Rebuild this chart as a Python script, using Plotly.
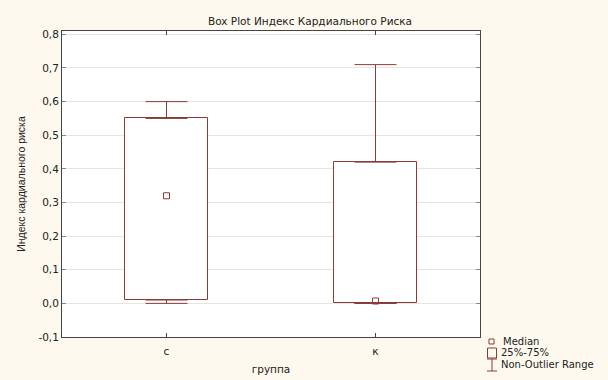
import plotly.graph_objects as go

# Group labels and summary statistics of the cardiac risk index
groups = ["c", "к"]
lower_whisker = [0.0, 0.0]
q1 = [0.01, 0.0]
median = [0.32, 0.007]
q3 = [0.55, 0.42]
upper_whisker = [0.60, 0.71]

y_ticks = [-0.1, 0.0, 0.1, 0.2, 0.3, 0.4, 0.5, 0.6, 0.7, 0.8]
y_tick_labels = ["-0,1", "0,0", "0,1", "0,2", "0,3", "0,4", "0,5", "0,6", "0,7", "0,8"]

MAROON = "#8b3a3a"
BG = "#fdf9ee"
FONT = "Liberation Sans, Arial, sans-serif"
WIDE = "DejaVu Sans, Verdana, sans-serif"
TEXT = "#222222"

W, H = 608, 380
L, R, T, B = 62, 128, 31, 43
PW, PH = W - L - R, H - T - B

fig = go.Figure()

# 25%-75% boxes
fig.add_trace(go.Bar(
    x=groups, base=q1, y=[b - a for a, b in zip(q1, q3)],
    width=0.4, marker=dict(color="white", line=dict(color=MAROON, width=1)),
    showlegend=False, hoverinfo="skip",
))

# upper whiskers from the top of each box
fig.add_trace(go.Scatter(
    x=groups, y=q3, mode="markers", marker=dict(size=1, opacity=0),
    error_y=dict(type="data", symmetric=False,
                 array=[u - t for u, t in zip(upper_whisker, q3)],
                 arrayminus=[0, 0], color=MAROON, thickness=1, width=21),
    showlegend=False, hoverinfo="skip",
))

# lower whiskers from the bottom of each box
fig.add_trace(go.Scatter(
    x=groups, y=q1, mode="markers", marker=dict(size=1, opacity=0),
    error_y=dict(type="data", symmetric=False,
                 array=[0, 0],
                 arrayminus=[b - lw for b, lw in zip(q1, lower_whisker)],
                 color=MAROON, thickness=1, width=21),
    showlegend=False, hoverinfo="skip",
))

# medians
fig.add_trace(go.Scatter(
    x=groups, y=median, mode="markers",
    marker=dict(symbol="square-open", size=6, color=MAROON, line=dict(width=1, color=MAROON)),
    showlegend=False, hoverinfo="skip",
))


def px_x(px):
    return (px - L) / PW


def px_y(py):
    return (H - B - py) / PH


shapes = [
    # median symbol
    dict(type="rect", xref="paper", yref="paper",
         x0=px_x(489), x1=px_x(494), y0=px_y(344), y1=px_y(339),
         line=dict(color=MAROON, width=1), fillcolor="rgba(0,0,0,0)"),
    # box symbol
    dict(type="rect", xref="paper", yref="paper",
         x0=px_x(487.5), x1=px_x(496.5), y0=px_y(358), y1=px_y(348),
         line=dict(color=MAROON, width=1), fillcolor="rgba(0,0,0,0)"),
    # whisker symbol
    dict(type="line", xref="paper", yref="paper",
         x0=px_x(492), x1=px_x(492), y0=px_y(371), y1=px_y(359),
         line=dict(color=MAROON, width=1)),
    dict(type="line", xref="paper", yref="paper",
         x0=px_x(487), x1=px_x(497), y0=px_y(359), y1=px_y(359),
         line=dict(color=MAROON, width=1)),
    dict(type="line", xref="paper", yref="paper",
         x0=px_x(487), x1=px_x(497), y0=px_y(371), y1=px_y(371),
         line=dict(color=MAROON, width=1)),
]

legend_items = [("Median", 501, 341), ("25%-75%", 498.5, 352.5), ("Non-Outlier Range", 498.5, 364)]
annotations = [
    dict(text=t, xref="paper", yref="paper", x=px_x(x), y=px_y(y),
         xanchor="left", yanchor="middle", showarrow=False,
         font=dict(family=WIDE, size=10, color=TEXT))
    for t, x, y in legend_items
]

fig.update_layout(
    width=W, height=H, autosize=False,
    margin=dict(l=L, r=R, t=T, b=B),
    paper_bgcolor=BG, plot_bgcolor="white",
    font=dict(family=FONT, size=11, color=TEXT),
    title=dict(text="Box Plot Индекс Кардиального Риска", x=310 / W, xref="container",
               xanchor="center", y=1 - 21 / H, yanchor="middle", automargin=False,
               font=dict(family=WIDE, size=10.5, color=TEXT)),
    bargap=0,
    showlegend=False,
    shapes=shapes,
    annotations=annotations,
)

fig.update_xaxes(
    range=[-0.5, 1.5], type="category", automargin=False,
    showline=True, linecolor="#444444", linewidth=1, mirror="ticks",
    ticks="inside", ticklen=4, tickcolor="#444444",
    showgrid=False, zeroline=False, ticklabelstandoff=4,
    tickfont=dict(family=WIDE, size=10.5, color=TEXT),
    title=dict(text="группа", standoff=10, font=dict(family=WIDE, size=10.5, color=TEXT)),
)

fig.update_yaxes(
    range=[-0.1, 0.81], automargin=False,
    tickvals=y_ticks, ticktext=y_tick_labels,
    showline=True, linecolor="#444444", linewidth=1, mirror="ticks",
    ticks="inside", ticklen=4, tickcolor="#888888",
    showgrid=True, gridcolor="#e4e4e4", gridwidth=1, zeroline=False,
    tickfont=dict(family=WIDE, size=10.5, color=TEXT),
    title=dict(text="Индекс кардиального риска", standoff=10,
               font=dict(family=FONT, size=10.5, color=TEXT)),
)

fig.write_html("out.html")
